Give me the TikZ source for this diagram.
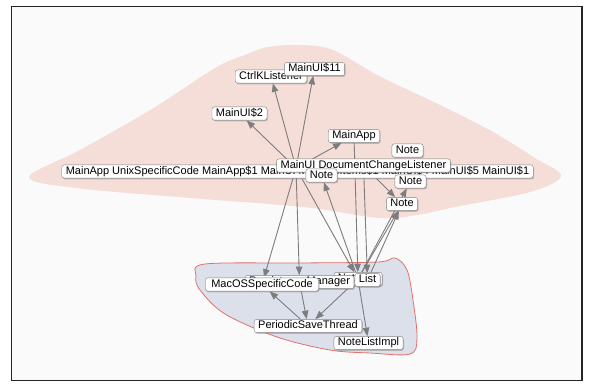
\documentclass[tikz,border=0pt]{standalone}
\usepackage{fontspec}
\setmainfont{Liberation Sans}
\usetikzlibrary{arrows.meta,shadows,backgrounds}
\definecolor{blobpink}{RGB}{245,221,216}
\definecolor{blobblue}{RGB}{220,224,235}
\definecolor{blobline}{RGB}{228,112,108}
\definecolor{depgray}{RGB}{125,125,125}
\pgfdeclarelayer{edgelayer}
\pgfsetlayers{background,edgelayer,main}

\begin{document}
\begin{tikzpicture}[x=1pt,y=-1pt,
  cls/.style={draw=black!50,fill=white,rounded corners=2.5pt,inner xsep=4pt,inner ysep=1.5pt,
    text height=8pt,text depth=2.3pt,font=\fontsize{11}{12}\selectfont,
    drop shadow={shadow xshift=1pt,shadow yshift=-1.2pt,opacity=0.45}},
  dep/.style={draw=depgray,line width=0.9pt,-{Triangle[length=8.5pt,width=6.5pt]}}]
\useasboundingbox (0,0) rectangle (589,383);

\node[cls] (row) at (297.5,171.5) {MainApp UnixSpecificCode MainApp\$1 MainUI MainUI\$Items\$1 MainUI\$4 MainUI\$5 MainUI\$1};
\node[cls] (dcl) at (363.5,165.5) {MainUI DocumentChangeListener};
\node[cls] (notemid) at (321.5,175.5) {Note};
\node[cls] (noteright) at (410.5,181.5) {Note};
\node[cls] (notelow) at (402,204) {Note};
\node[cls] (notetop) at (407.5,150.5) {Note};
\node[cls] (mainapp) at (354,136) {MainApp};
\node[cls] (mainui2) at (239.5,113.5) {MainUI\$2};
\node[cls] (ctrlk) at (271,76.5) {CtrlKListener};
\node[cls] (mainui11) at (314.5,69) {MainUI\$11};
\coordinate (mainui) at (296,168);

\node[cls] (notelist) at (358,279) {NoteList};
\node[cls] (manager) at (299.5,282) {PersistenceManager};
\node[cls,minimum width=113pt] (macos) at (262,284.5) {MacOSSpecificCode};
\node[cls] (list) at (367.5,280) {List};
\node[cls] (pst) at (308,326) {PeriodicSaveThread};
\node[cls] (notelistimpl) at (368.5,343) {NoteListImpl};

\begin{pgfonlayer}{edgelayer}
  \draw[dep] (mainui) -- (mainui2);
  \draw[dep] (mainui) -- (ctrlk);
  \draw[dep] (mainui) -- (mainui11);
  \draw[dep] (mainui) -- (mainapp);
  \draw[dep] (mainui) -- (macos);
  \draw[dep] (mainui) -- (manager);
  \draw[dep] (mainui) -- (notelist);
  \draw[dep] (mainapp) -- (notelist);
  \draw[dep] (dcl) -- (list);
  \draw[dep] (dcl) -- (notelow);
  \draw[dep] (notelist) -- (notemid);
  \draw[dep] (notelist) -- (notelow);
  \draw[dep] (list) -- (notelow);
  \draw[dep] (notelist) -- (noteright);
  \draw[dep] (pst) -- (macos);
  \draw[dep] (manager) -- (pst);
  \draw[dep] (notelist) -- (pst);
  \draw[dep] (notelist) -- (notelistimpl);
\end{pgfonlayer}

\begin{pgfonlayer}{background}
  \draw[fill=black!2,draw=black!85,line width=1.2pt] (11.5,6.5) rectangle (582,380.5);
  \fill[blobpink] plot[smooth cycle,tension=0.55] coordinates {(29,177) (80,150) (152,109) (215,68) (245,55) (268,47) (300,45) (333,50) (379,76) (440,105) (493,132) (535,158) (561,176) (530,192) (455,207) (417,215) (379,218) (303,207) (190,198) (76,188)};
  \filldraw[fill=blobblue,draw=blobline,line width=0.8pt] plot[smooth cycle,tension=0.55] coordinates {(196,276) (205,264) (300,263) (378,262) (395,258) (407,270) (413,300) (417,338) (410,354) (370,353) (330,350) (277,337) (225,314) (200,290)};
\end{pgfonlayer}
\end{tikzpicture}
\end{document}
